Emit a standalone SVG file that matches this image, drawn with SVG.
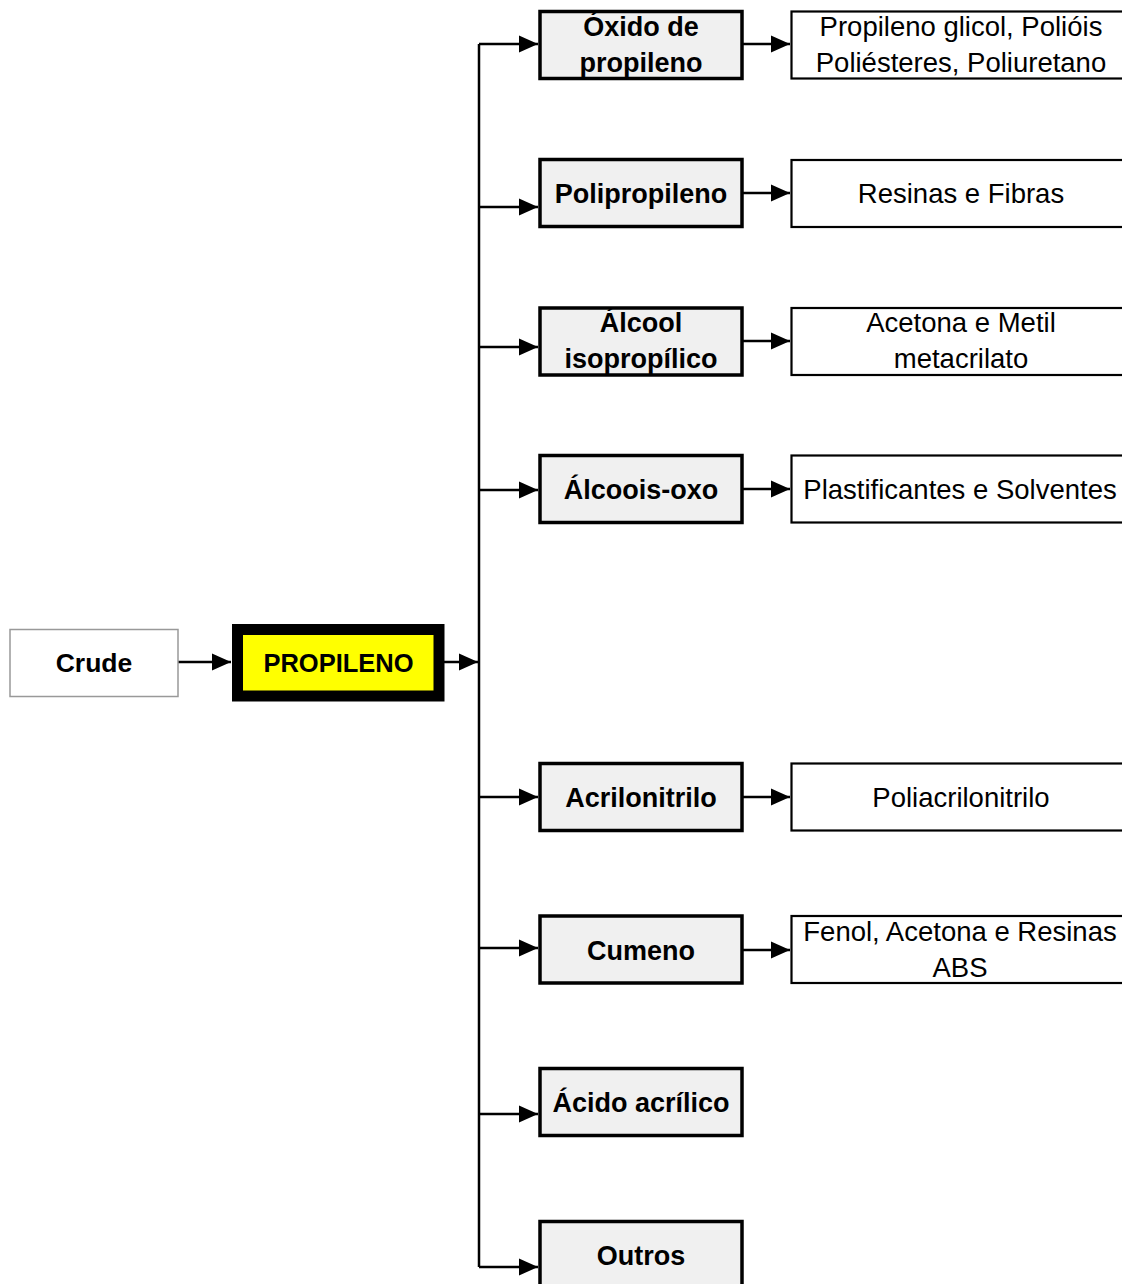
<svg xmlns="http://www.w3.org/2000/svg" width="1122" height="1284" viewBox="0 0 1122 1284">
<style>
.t{font-family:"Liberation Sans",Arial,sans-serif;fill:#000;text-anchor:middle}
.b{font-weight:bold;font-size:27px}
.r{font-size:27.5px}
.mid{fill:#f0f0f0;stroke:#000;stroke-width:3.5}
.out{fill:#fff;stroke:#000;stroke-width:2.2}
.c{fill:none;stroke:#000;stroke-width:2.5}
</style>
<defs>
<marker id="ah" markerUnits="userSpaceOnUse" markerWidth="20" markerHeight="20" refX="19" refY="10" orient="auto">
<path d="M0,1.5 L19,10 L0,18.5 Z" fill="#000"/>
</marker>
</defs>
<rect width="1122" height="1284" fill="#fff"/>
<g id="connectors">
<path class="c" d="M178,662 H231" marker-end="url(#ah)"/>
<path class="c" d="M444,662 H478" marker-end="url(#ah)"/>
<path class="c" d="M479,44 V1267"/>
<path class="c" d="M479,44 H538" marker-end="url(#ah)"/>
<path class="c" d="M479,207 H538" marker-end="url(#ah)"/>
<path class="c" d="M479,347 H538" marker-end="url(#ah)"/>
<path class="c" d="M479,490 H538" marker-end="url(#ah)"/>
<path class="c" d="M479,797 H538" marker-end="url(#ah)"/>
<path class="c" d="M479,948 H538" marker-end="url(#ah)"/>
<path class="c" d="M479,1114 H538" marker-end="url(#ah)"/>
<path class="c" d="M479,1267 H538" marker-end="url(#ah)"/>
<path class="c" d="M742,44 H790" marker-end="url(#ah)"/>
<path class="c" d="M742,193 H790" marker-end="url(#ah)"/>
<path class="c" d="M742,341 H790" marker-end="url(#ah)"/>
<path class="c" d="M742,489 H790" marker-end="url(#ah)"/>
<path class="c" d="M742,797 H790" marker-end="url(#ah)"/>
<path class="c" d="M742,950 H790" marker-end="url(#ah)"/>
</g>
<g id="crude">
<rect x="10" y="629.5" width="168" height="67" fill="#fff" stroke="#999" stroke-width="1.5"/>
<text class="t b" x="94" y="672" style="font-size:26.5px">Crude</text>
</g>
<g id="propileno">
<rect x="237.5" y="629.5" width="201.5" height="66.5" fill="#ffff00" stroke="#000" stroke-width="11"/>
<text class="t b" x="338.5" y="672" style="font-size:25.5px">PROPILENO</text>
</g>
<g id="oxido">
<rect class="mid" x="540" y="11.5" width="202" height="67"/>
<text class="t b" x="641" y="36">Óxido de</text>
<text class="t b" x="641" y="72">propileno</text>
</g>
<g id="polipropileno">
<rect class="mid" x="540" y="159.5" width="202" height="67"/>
<text class="t b" x="641" y="203">Polipropileno</text>
</g>
<g id="alcool">
<rect class="mid" x="540" y="308" width="202" height="67"/>
<text class="t b" x="641" y="332">Álcool</text>
<text class="t b" x="641" y="368">isopropílico</text>
</g>
<g id="alcoois-oxo">
<rect class="mid" x="540" y="455.5" width="202" height="67"/>
<text class="t b" x="641" y="499">Álcoois-oxo</text>
</g>
<g id="acrilonitrilo">
<rect class="mid" x="540" y="763.5" width="202" height="67"/>
<text class="t b" x="641" y="807">Acrilonitrilo</text>
</g>
<g id="cumeno">
<rect class="mid" x="540" y="916" width="202" height="67"/>
<text class="t b" x="641" y="960">Cumeno</text>
</g>
<g id="acido">
<rect class="mid" x="540" y="1068.5" width="202" height="67"/>
<text class="t b" x="641" y="1112">Ácido acrílico</text>
</g>
<g id="outros">
<rect class="mid" x="540" y="1221.5" width="202" height="70"/>
<text class="t b" x="641" y="1265">Outros</text>
</g>
<g id="out-oxido">
<rect class="out" x="791.5" y="11.5" width="340" height="67"/>
<text class="t r" x="961" y="36">Propileno glicol, Polióis</text>
<text class="t r" x="961" y="72">Poliésteres, Poliuretano</text>
</g>
<g id="out-polipropileno">
<rect class="out" x="791.5" y="160" width="340" height="67"/>
<text class="t r" x="961" y="203">Resinas e Fibras</text>
</g>
<g id="out-alcool">
<rect class="out" x="791.5" y="308" width="340" height="67"/>
<text class="t r" x="961" y="332">Acetona e Metil</text>
<text class="t r" x="961" y="368">metacrilato</text>
</g>
<g id="out-alcoois-oxo">
<rect class="out" x="791.5" y="455.5" width="340" height="67"/>
<text class="t r" x="960" y="499">Plastificantes e Solventes</text>
</g>
<g id="out-acrilonitrilo">
<rect class="out" x="791.5" y="763.5" width="340" height="67"/>
<text class="t r" x="961" y="807">Poliacrilonitrilo</text>
</g>
<g id="out-cumeno">
<rect class="out" x="791.5" y="916" width="340" height="67"/>
<text class="t r" x="960" y="941">Fenol, Acetona e Resinas</text>
<text class="t r" x="960" y="977">ABS</text>
</g>
</svg>
